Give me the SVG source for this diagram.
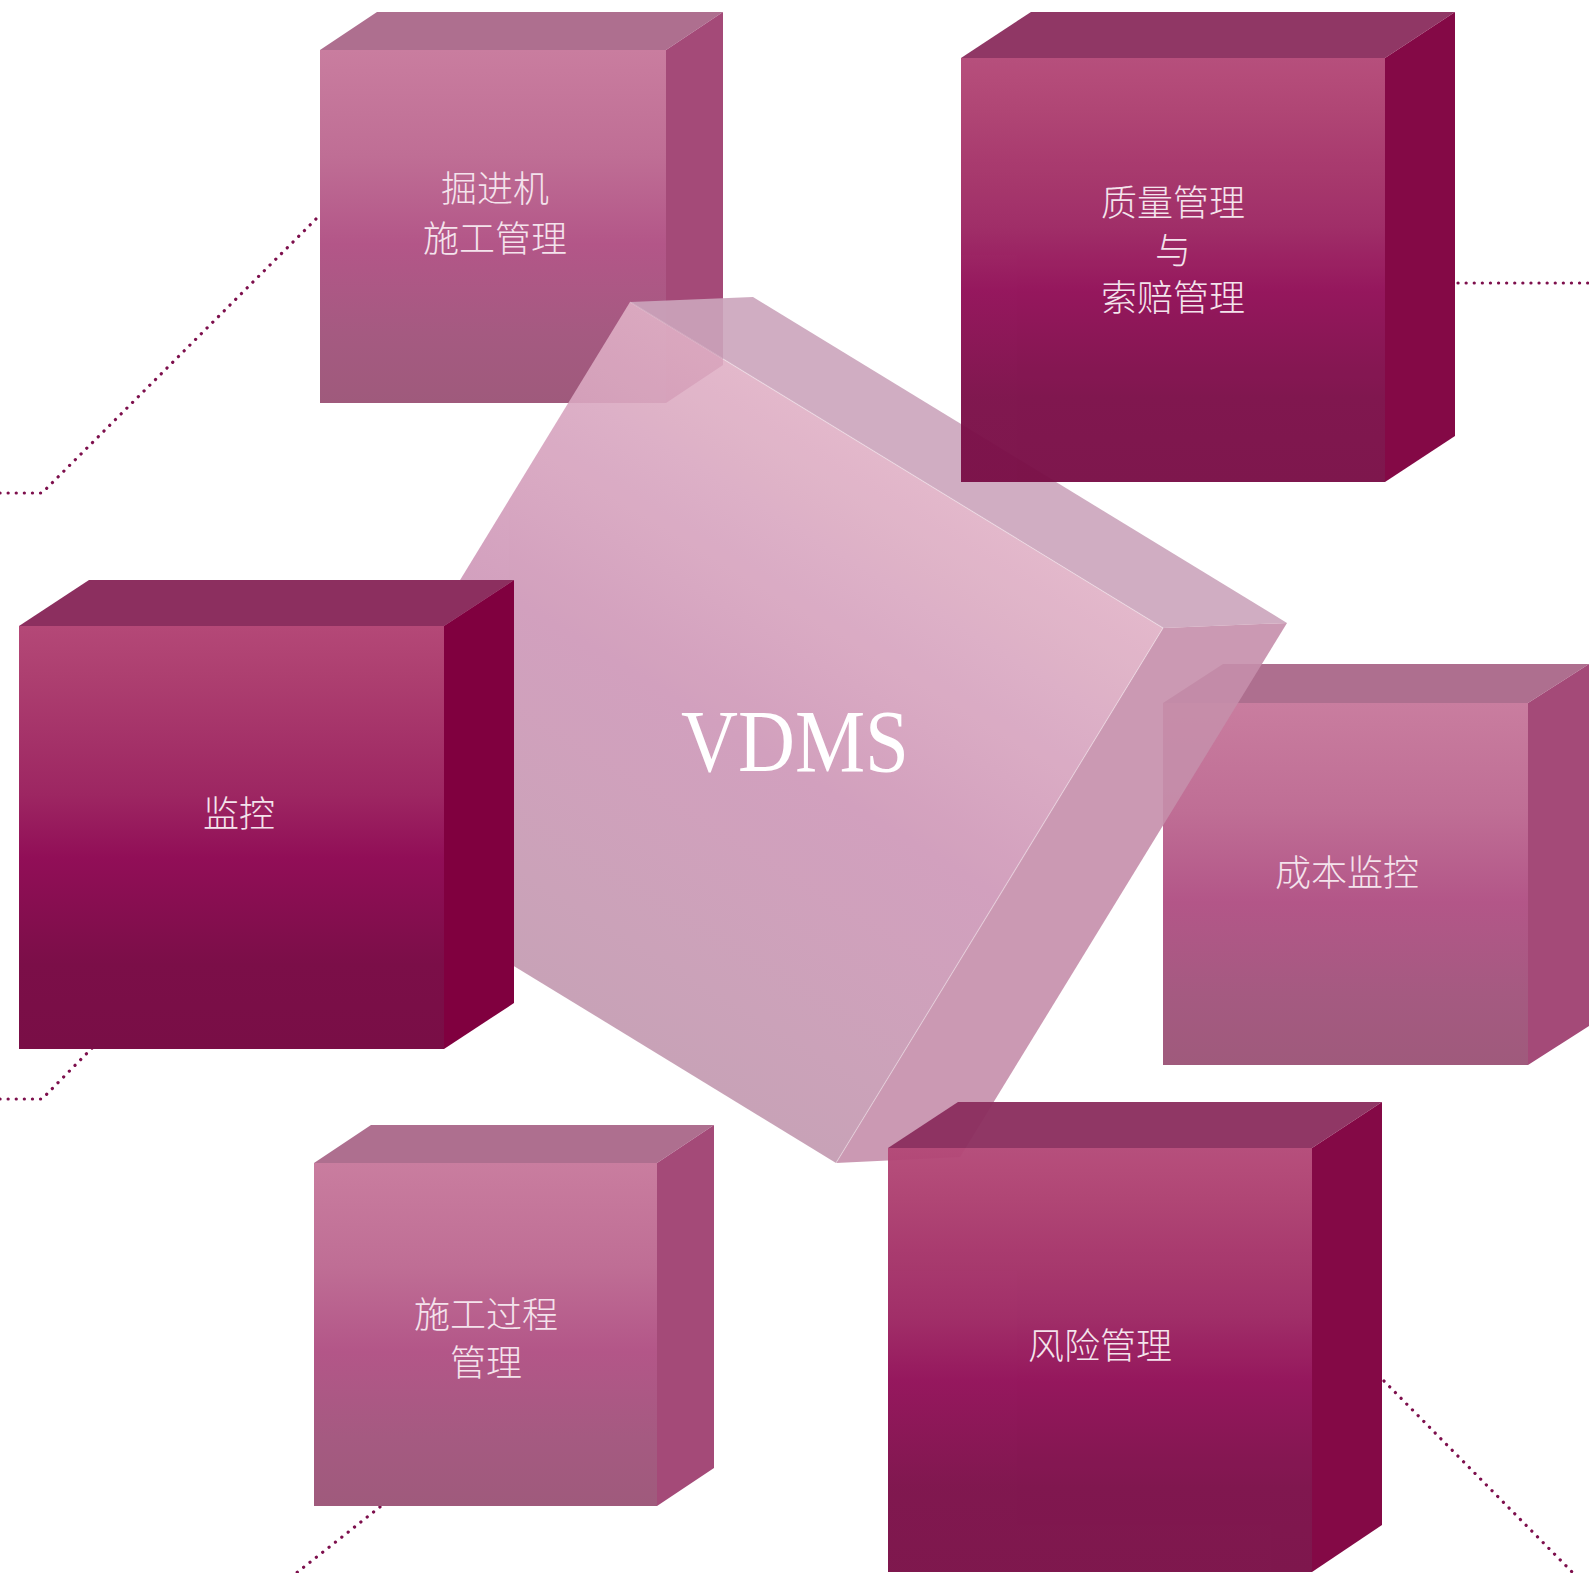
<svg xmlns="http://www.w3.org/2000/svg" width="1589" height="1573" viewBox="0 0 1589 1573">
  <defs>
    <!-- front-face shading for the deep magenta boxes -->
    <linearGradient id="frontDark" x1="0" y1="0" x2="0" y2="1">
      <stop offset="0" stop-color="#b44877"/>
      <stop offset="0.12" stop-color="#ad3f70"/>
      <stop offset="0.4" stop-color="#9d2662"/>
      <stop offset="0.55" stop-color="#910e57"/>
      <stop offset="0.8" stop-color="#7b0e48"/>
      <stop offset="1" stop-color="#790e46"/>
    </linearGradient>
    <!-- front-face shading for the light rose boxes -->
    <linearGradient id="frontLight" x1="0" y1="0" x2="0" y2="1">
      <stop offset="0" stop-color="#c97d9f"/>
      <stop offset="0.3" stop-color="#bf6e95"/>
      <stop offset="0.55" stop-color="#b35688"/>
      <stop offset="0.8" stop-color="#a55a81"/>
      <stop offset="1" stop-color="#9f5a7c"/>
    </linearGradient>
    <!-- centre block front face -->
    <linearGradient id="coreFront" gradientUnits="userSpaceOnUse" x1="896" y1="465" x2="570" y2="1000">
      <stop offset="0" stop-color="#e0b1c6"/>
      <stop offset="0.5" stop-color="#ce96b7"/>
      <stop offset="1" stop-color="#c399b0"/>
    </linearGradient>
    <style>
      .dot { fill: none; stroke: #7d0f4c; stroke-width: 3.2; stroke-dasharray: 0.1 8; stroke-linecap: round; }
      .dark .front { fill: url(#frontDark); }
      .dark .top { fill: #8c2f5f; }
      .dark .side { fill: #80003f; }
      .light .front { fill: url(#frontLight); }
      .light .top { fill: #ae6f8f; }
      .light .side { fill: #a44a78; }
      .over { opacity: 0.96; }
      .label { font-family: "Noto Sans CJK SC", "Noto Sans", sans-serif; font-size: 36px; font-weight: 300; fill: #f4e3ec; text-anchor: middle; }
      .core-label { font-family: "Liberation Serif", "DejaVu Serif", serif; font-size: 88px; fill: #ffffff; text-anchor: middle; }
    </style>
  </defs>

  <rect width="1589" height="1573" fill="#ffffff"/>

  <!-- dotted connectors -->
  <g id="connectors">
    <polyline class="dot" points="0,493 42,493 320,215"/>
    <polyline class="dot" points="1458,283 1589,283"/>
    <polyline class="dot" points="0,1099 42,1099 96,1044"/>
    <polyline class="dot" points="380,1507 290,1578"/>
    <polyline class="dot" points="1384,1381 1580,1580"/>
  </g>

  <!-- boxes behind the centre block -->
  <g id="node-tunnel" class="light">
    <polygon class="top" points="320,50 377,12 723,12 666,50"/>
    <polygon class="side" points="666,50 723,12 723,365 666,403"/>
    <rect class="front" x="320" y="50" width="346" height="353"/>
    <text class="label" x="495" y="202">掘进机</text>
    <text class="label" x="495" y="252">施工管理</text>
  </g>

  <g id="node-cost" class="light">
    <polygon class="top" points="1163,703 1223,664 1589,664 1528,703"/>
    <polygon class="side" points="1528,703 1589,664 1589,1026 1528,1065"/>
    <rect class="front" x="1163" y="703" width="365" height="362"/>
    <text class="label" x="1347" y="886">成本监控</text>
  </g>

  <!-- centre block -->
  <g id="node-vdms" opacity="0.9">
    <polygon points="630,302 753,297 1287,623 1163,628" fill="#cca5bc"/>
    <polygon points="1163,628 1287,623 960,1157 836,1163" fill="#c68fab"/>
    <polygon points="630,302 1163,628 836,1163 303,837" fill="url(#coreFront)"/>
    <polyline points="630,302 1163,628 836,1163" fill="none" stroke="#ffffff" stroke-opacity="0.3" stroke-width="1.2"/>
    <text class="core-label" x="795" y="771" textLength="228" lengthAdjust="spacingAndGlyphs">VDMS</text>
  </g>

  <!-- boxes in front of the centre block -->
  <g id="node-quality" class="dark over">
    <polygon class="top" points="961,58 1031,12 1455,12 1385,58"/>
    <polygon class="side" points="1385,58 1455,12 1455,436 1385,482"/>
    <rect class="front" x="961" y="58" width="424" height="424"/>
    <text class="label" x="1173" y="216">质量管理</text>
    <text class="label" x="1173" y="264">与</text>
    <text class="label" x="1173" y="311">索赔管理</text>
  </g>

  <g id="node-monitor" class="dark">
    <polygon class="top" points="19,626 89,580 514,580 444,626"/>
    <polygon class="side" points="444,626 514,580 514,1003 444,1049"/>
    <rect class="front" x="19" y="626" width="425" height="423"/>
    <text class="label" x="239" y="827">监控</text>
  </g>

  <g id="node-process" class="light">
    <polygon class="top" points="314,1163 371,1125 714,1125 657,1163"/>
    <polygon class="side" points="657,1163 714,1125 714,1468 657,1506"/>
    <rect class="front" x="314" y="1163" width="343" height="343"/>
    <text class="label" x="486" y="1328">施工过程</text>
    <text class="label" x="486" y="1376">管理</text>
  </g>

  <g id="node-risk" class="dark over">
    <polygon class="top" points="888,1148 958,1102 1382,1102 1312,1148"/>
    <polygon class="side" points="1312,1148 1382,1102 1382,1525 1312,1572"/>
    <rect class="front" x="888" y="1148" width="424" height="424"/>
    <text class="label" x="1100" y="1359">风险管理</text>
  </g>
</svg>
